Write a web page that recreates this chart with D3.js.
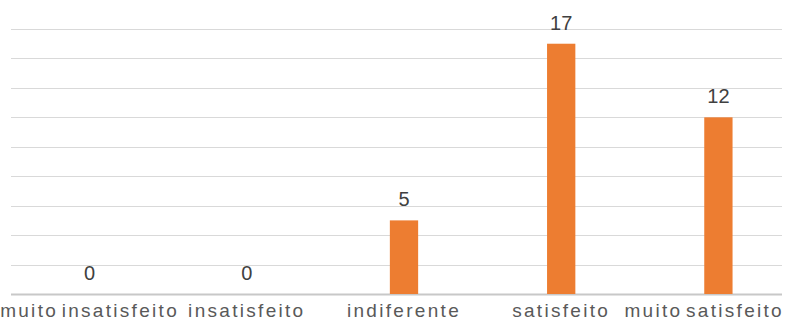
<!DOCTYPE html>
<html>
<head>
<meta charset="utf-8">
<script src="https://cdn.jsdelivr.net/npm/d3@7"></script>
<style>
  html, body { margin: 0; padding: 0; background: #fff; }
  svg { display: block; }
  text { font-family: "Liberation Sans", Arial, sans-serif; fill: #595959; }
</style>
</head>
<body>
<svg id="chart" width="789" height="322"></svg>
<script>
// Satisfaction survey counts
const categories = ["muito insatisfeito", "insatisfeito", "indiferente", "satisfeito", "muito satisfeito"];
const counts = [0, 0, 5, 17, 12];
const gridValues = [0, 2, 4, 6, 8, 10, 12, 14, 16, 18];

const svg = d3.select("#chart");

const x = d3.scaleBand()
  .domain(categories)
  .range([11, 797])
  .paddingInner(0.82)
  .paddingOuter(0.41);

const y = d3.scaleLinear()
  .domain([0, 18])
  .range([294, 29]);

// horizontal gridlines
svg.append("g")
  .selectAll("line")
  .data(gridValues)
  .join("line")
  .attr("x1", 11)
  .attr("x2", 782)
  .attr("y1", d => Math.round(y(d)) + 0.5)
  .attr("y2", d => Math.round(y(d)) + 0.5)
  .attr("stroke", d => d === 0 ? "#c8c8c8" : "#d9d9d9")
  .attr("stroke-width", d => d === 0 ? 2 : 1);

// bars
svg.append("g")
  .selectAll("rect")
  .data(counts)
  .join("rect")
  .attr("x", (d, i) => x(categories[i]))
  .attr("width", x.bandwidth())
  .attr("y", d => y(d))
  .attr("height", d => y(0) - y(d))
  .attr("fill", "#ED7D31");

// value labels
svg.append("g")
  .selectAll("text")
  .data(counts)
  .join("text")
  .attr("x", (d, i) => x(categories[i]) + x.bandwidth() / 2)
  .attr("y", d => y(d) - 14)
  .attr("text-anchor", "middle")
  .style("font-size", "20px")
  .style("fill", "#404040")
  .text(d => d);

// category labels, kept inside the chart's edges
const catLabels = svg.append("g")
  .selectAll("text")
  .data(categories)
  .join("text")
  .attr("x", d => x(d) + x.bandwidth() / 2)
  .attr("y", 317)
  .attr("text-anchor", "middle")
  .style("font-size", "19px")
  .style("letter-spacing", "2.3px")
  .style("word-spacing", "-4px")
  .text(d => d);

catLabels.each(function () {
  const t = d3.select(this);
  const len = this.getComputedTextLength();
  const cx = +t.attr("x");
  if (cx + len / 2 > 784) t.attr("x", 784 - len / 2);
  if (cx - len / 2 < 0) t.attr("x", len / 2);
});
</script>
</body>
</html>
